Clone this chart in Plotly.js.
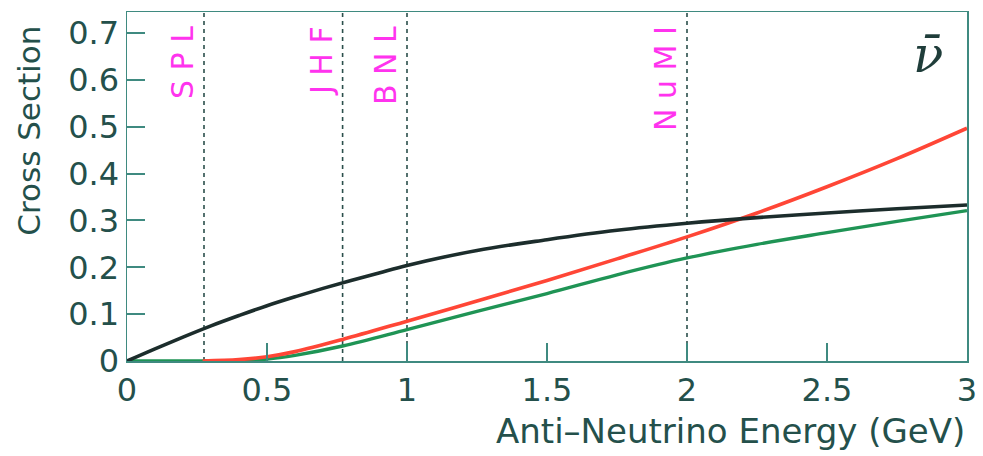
<!DOCTYPE html>
<html>
<head>
<meta charset="utf-8">
<script src="https://cdn.plot.ly/plotly-3.0.1.min.js"></script>
<style>
  html, body { margin: 0; padding: 0; background: #ffffff; }
  #chart { width: 983px; height: 456px; }
</style>
</head>
<body>
<div id="chart"></div>
<script>
// Anti-neutrino cross sections vs energy (GeV)
const energyBlack = [0, 0.1, 0.2, 0.3, 0.4, 0.5, 0.6, 0.7, 0.8, 0.9, 1.0, 1.25, 1.5, 1.75, 2.0, 2.25, 2.5, 2.75, 3.0];
const sigmaBlack  = [0, 0.026, 0.051, 0.075, 0.097, 0.118, 0.137, 0.155, 0.172, 0.188, 0.204, 0.236, 0.259, 0.279, 0.294, 0.306, 0.316, 0.325, 0.333];

const energyRed = [0.27, 0.4, 0.5, 0.6, 0.77, 1.0, 1.25, 1.5, 1.75, 2.0, 2.25, 2.5, 2.75, 3.0];
const sigmaRed  = [0, 0.003, 0.009, 0.020, 0.046, 0.085, 0.128, 0.172, 0.218, 0.265, 0.316, 0.372, 0.432, 0.497];

const energyGreen = [0, 0.3, 0.4, 0.5, 0.6, 0.77, 1.0, 1.25, 1.5, 1.75, 2.0, 2.25, 2.5, 2.75, 3.0];
const sigmaGreen  = [0, 0, 0.001, 0.004, 0.012, 0.032, 0.067, 0.106, 0.144, 0.184, 0.220, 0.249, 0.274, 0.298, 0.321];

// Beam experiments and their typical energies
const experiments = ["S P L", "J H F", "B N L", "N u M I"];
const expEnergy   = [0.275, 0.77, 1.0, 2.0];

const xRange = [0, 3];
const yRange = [0, 0.745];
const axisColor = "#3f8a80";
const textColor = "#24504b";

const traces = [];

expEnergy.forEach(function (e) {
  traces.push({
    x: [e, e], y: yRange, mode: "lines",
    line: { color: "#2b4f4b", width: 1.6, dash: "4px,4px" },
    hoverinfo: "skip", showlegend: false
  });
});

traces.push({
  x: energyGreen, y: sigmaGreen, mode: "lines",
  line: { color: "#1f9455", width: 3.4, shape: "spline", smoothing: 1 },
  showlegend: false
});
traces.push({
  x: energyRed, y: sigmaRed, mode: "lines",
  line: { color: "#ff4636", width: 3.6, shape: "spline", smoothing: 1 },
  showlegend: false
});
traces.push({
  x: energyBlack, y: sigmaBlack, mode: "lines",
  line: { color: "#1c2d2c", width: 3.6, shape: "spline", smoothing: 1 },
  showlegend: false
});

const annotations = experiments.map(function (name, i) {
  return {
    x: expEnergy[i], xref: "x", xanchor: "right", xshift: -2,
    y: 1, yref: "paper", yanchor: "top", yshift: -12,
    text: name, textangle: -90, showarrow: false,
    font: { family: "DejaVu Sans", size: 30, color: "#ff33ee" }
  };
});

annotations.push({
  x: 0.955, xref: "paper", xshift: 16, y: 0.965, yref: "paper",
  text: "<i>ν̄</i>", showarrow: false,
  font: { family: "DejaVu Serif", size: 50, color: "#1f3d3a" }
});
annotations.push({
  x: 1, xref: "paper", xanchor: "right",
  y: 0, yref: "paper", yanchor: "top", yshift: -48,
  text: "Anti\u2013Neutrino Energy (GeV)", showarrow: false,
  font: { family: "DejaVu Sans", size: 34, color: textColor }
});
annotations.push({
  x: 0, xref: "paper", xshift: -118,
  y: 0.66, yref: "paper",
  text: "Cross Section", textangle: -90, showarrow: false,
  font: { family: "DejaVu Sans", size: 31, color: textColor }
});

const layout = {
  width: 983, height: 456,
  margin: { l: 127, r: 16, t: 12, b: 95 },
  paper_bgcolor: "#ffffff", plot_bgcolor: "#ffffff",
  showlegend: false,
  xaxis: {
    range: xRange, dtick: 0.5, tick0: 0,
    ticks: "inside", ticklen: 18, tickwidth: 2, tickcolor: axisColor,
    showline: true, linecolor: axisColor, linewidth: 1.5, mirror: true,
    showgrid: false, zeroline: false,
    tickfont: { family: "DejaVu Sans", size: 32, color: textColor }
  },
  yaxis: {
    range: yRange, dtick: 0.1, tick0: 0,
    ticks: "inside", ticklen: 18, tickwidth: 2, tickcolor: axisColor,
    showline: true, linecolor: axisColor, linewidth: 1.5, mirror: true,
    showgrid: false, zeroline: false,
    tickfont: { family: "DejaVu Sans", size: 32, color: textColor }
  },
  annotations: annotations
};

Plotly.newPlot("chart", traces, layout, { staticPlot: true, displayModeBar: false });
</script>
</body>
</html>
